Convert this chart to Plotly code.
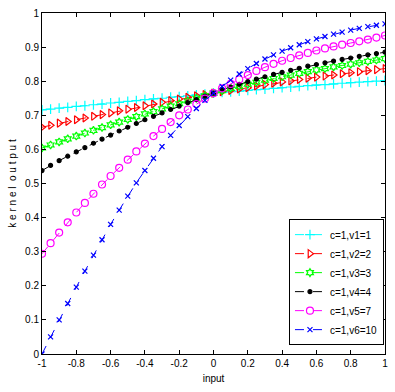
import numpy as np
import plotly.graph_objects as go

x_vals = np.round(np.arange(-1, 1.0001, 0.05), 2)

v1 = [0.716,0.718,0.721,0.723,0.726,0.728,0.731,0.733,0.736,0.738,0.741,0.743,0.746,0.748,0.750,0.753,0.755,0.757,0.760,0.762,0.765,
      0.767,0.769,0.771,0.773,0.775,0.777,0.779,0.781,0.783,0.785,0.787,0.789,0.790,0.792,0.794,0.796,0.797,0.799,0.800,0.802]
v2 = [0.665,0.671,0.677,0.682,0.687,0.692,0.697,0.702,0.707,0.713,0.718,0.723,0.728,0.733,0.738,0.743,0.748,0.753,0.757,0.761,0.765,
      0.769,0.773,0.777,0.781,0.786,0.790,0.794,0.798,0.801,0.805,0.809,0.812,0.815,0.818,0.822,0.825,0.828,0.831,0.834,0.837]
v3 = [0.604,0.613,0.622,0.631,0.639,0.648,0.656,0.664,0.672,0.680,0.688,0.696,0.704,0.711,0.719,0.727,0.734,0.742,0.750,0.757,0.765,
      0.772,0.779,0.785,0.791,0.797,0.803,0.808,0.813,0.818,0.823,0.828,0.833,0.837,0.842,0.846,0.850,0.854,0.858,0.862,0.866]
v4 = [0.538,0.553,0.567,0.580,0.593,0.605,0.618,0.630,0.642,0.654,0.665,0.676,0.687,0.697,0.707,0.717,0.727,0.737,0.746,0.756,0.765,
      0.775,0.783,0.791,0.799,0.806,0.813,0.820,0.826,0.832,0.838,0.844,0.849,0.854,0.859,0.864,0.868,0.873,0.877,0.881,0.885]
v5 = [0.294,0.325,0.356,0.386,0.415,0.443,0.470,0.497,0.522,0.546,0.570,0.594,0.617,0.639,0.660,0.680,0.700,0.717,0.733,0.749,0.765,
      0.779,0.792,0.805,0.818,0.830,0.841,0.851,0.860,0.868,0.876,0.883,0.890,0.896,0.902,0.907,0.912,0.917,0.922,0.928,0.934]
v6 = [0.000,0.050,0.100,0.148,0.196,0.243,0.290,0.335,0.380,0.422,0.463,0.502,0.538,0.574,0.608,0.641,0.670,0.696,0.720,0.744,0.765,
      0.785,0.803,0.821,0.837,0.852,0.865,0.877,0.888,0.898,0.907,0.916,0.924,0.931,0.938,0.944,0.950,0.955,0.960,0.964,0.968]

names = ["c=1,v1=1", "c=1,v2=2", "c=1,v3=3", "c=1,v4=4", "c=1,v5=7", "c=1,v6=10"]
series = [v1, v2, v3, v4, v5, v6]
colors = ["#00FFFF", "#FF0000", "#00FF00", "#000000", "#FF00FF", "#0000FF"]
symbols = ["cross-thin-open", "triangle-right-open", "hexagram-open", "circle", "circle-open", "x-thin-open"]
sizes = [7, 7, 6, 4, 7, 5]

fig = go.Figure()
for name, ys, c, s, sz in zip(names, series, colors, symbols, sizes):
    fig.add_trace(go.Scatter(
        x=x_vals, y=ys, name=name, mode="lines+markers",
        line=dict(color=c, width=1, dash="dash"),
        marker=dict(symbol=s, size=sz, color=c, line=dict(color=c, width=1.2)),
    ))

axis_common = dict(
    showgrid=False, zeroline=False, showline=True, linecolor="black", linewidth=1,
    mirror="ticks", ticks="inside", ticklen=4, tickcolor="black",
    tickfont=dict(family="Liberation Sans, Arial", size=10, color="black"),
)
fig.update_xaxes(range=[-1, 1], tickvals=[-1, -0.8, -0.6, -0.4, -0.2, 0, 0.2, 0.4, 0.6, 0.8, 1],
                 ticktext=["-1", "-0.8", "-0.6", "-0.4", "-0.2", "0", "0.2", "0.4", "0.6", "0.8", "1"],
                 title=dict(text="input", font=dict(family="Liberation Sans, Arial", size=10, color="black"), standoff=6),
                 **axis_common)
fig.update_yaxes(range=[0, 1], tickvals=[0, 0.1, 0.2, 0.3, 0.4, 0.5, 0.6, 0.7, 0.8, 0.9, 1],
                 ticktext=["0", "0.1", "0.2", "0.3", "0.4", "0.5", "0.6", "0.7", "0.8", "0.9", "1"],
                 title=dict(text="k e r n e l  o u t p u t", font=dict(family="Liberation Sans, Arial", size=10, color="black"), standoff=6),
                 **axis_common)

fig.update_layout(
    width=395, height=392,
    margin=dict(l=42, r=7, t=11, b=38),
    paper_bgcolor="white", plot_bgcolor="white",
    legend=dict(x=0.997, y=0.026, xanchor="right", yanchor="bottom",
                bgcolor="white", bordercolor="black", borderwidth=1,
                font=dict(family="Liberation Sans, Arial", size=10, color="black"),
                itemwidth=30, tracegroupgap=0),
)

fig.write_html("out.html")
